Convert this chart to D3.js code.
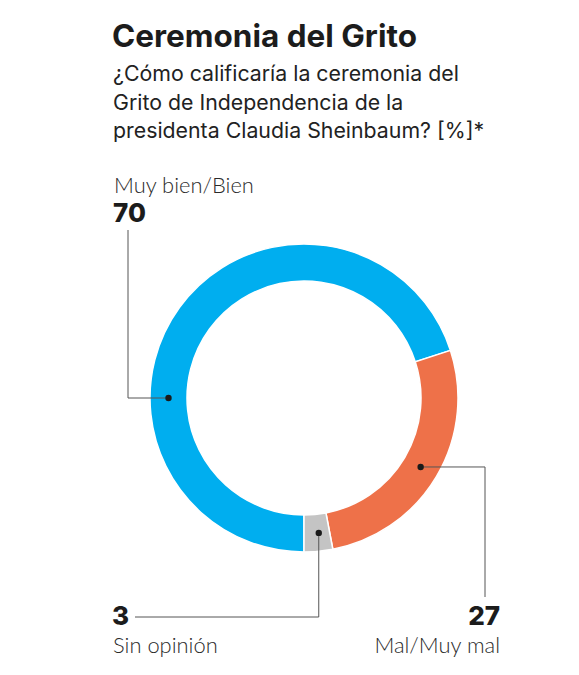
<!DOCTYPE html>
<meta charset="utf-8">
<style>
html, body {
  margin: 0;
  padding: 0;
  background: #fff;
}
svg text {
  font-family: Inter, "Noto Sans", sans-serif;
  fill: #1c1c1c;
}
.title { font-weight: 700; }
.subtitle { font-weight: 400; fill: #222; }
.label { font-family: Lato, Inter, sans-serif; font-weight: 300; fill: #2a2a2a; }
.value { font-weight: 800; }
.leader { fill: none; stroke: #555; stroke-width: 1; }
</style>
<svg width="579" height="675"></svg>
<script src="https://d3js.org/d3.v7.min.js"></script>
<script>
// data
const categories = ['Muy bien/Bien', 'Mal/Muy mal', 'Sin opinión'];
const values = [70, 27, 3];
const colors = ['#00aeef', '#ee7149', '#c4c4c4'];
const title = 'Ceremonia del Grito';
const subtitle = [
  '¿Cómo calificaría la ceremonia del',
  'Grito de Independencia de la',
  'presidenta Claudia Sheinbaum? [%]*'
];

const svg = d3.select('svg');
const cx = 304, cy = 398;
const outerR = 154, innerR = 117;
const midR = (outerR + innerR) / 2;

// shrink/grow a text so it spans the given width
function fitWidth(sel, target) {
  const node = sel.node();
  const size = parseFloat(sel.attr('font-size'));
  const w = node.getComputedTextLength();
  const s = size * target / w;
  sel.attr('font-size', s);
  return s;
}

// titles
const t = svg.append('text')
  .attr('class', 'title')
  .attr('x', 112)
  .attr('y', 47)
  .attr('font-size', 30)
  .text(title);
fitWidth(t, 305);

const sub0 = svg.append('text')
  .attr('class', 'subtitle')
  .attr('x', 113)
  .attr('y', 81)
  .attr('font-size', 22)
  .text(subtitle[0]);
const subSize = fitWidth(sub0, 346);
subtitle.slice(1).forEach((line, i) => {
  svg.append('text')
    .attr('class', 'subtitle')
    .attr('x', 113)
    .attr('y', 81 + (i + 1) * 28.5)
    .attr('font-size', subSize)
    .text(line);
});

// donut
const pie = d3.pie()
  .sort(null)
  .startAngle(Math.PI)
  .endAngle(3 * Math.PI)
  .value(d => d);
const arc = d3.arc().innerRadius(innerR).outerRadius(outerR);
const arcs = pie(values);

const g = svg.append('g').attr('transform', `translate(${cx},${cy})`);
g.selectAll('path')
  .data(arcs)
  .enter()
  .append('path')
  .attr('d', arc)
  .attr('fill', (d, i) => colors[i])
  .attr('stroke', '#fff')
  .attr('stroke-width', 1.5);

// anchor dots: first slice anchored on the left side of the ring
const polar = a => [midR * Math.sin(a), -midR * Math.cos(a)];
const anchors = [
  polar(1.5 * Math.PI),
  arc.centroid(arcs[1]),
  arc.centroid(arcs[2])
].map(p => [p[0] + cx, p[1] + cy]);

const leaders = [
  p => `M${p[0]},${p[1]}H128V230`,
  p => `M${p[0]},${p[1]}H485V597`,
  p => `M${p[0] + 2},${p[1]}V617H135`
];

svg.selectAll('path.leader')
  .data(anchors)
  .enter()
  .append('path')
  .attr('class', 'leader')
  .attr('d', (p, i) => leaders[i](p));

svg.selectAll('circle.dot')
  .data(anchors)
  .enter()
  .append('circle')
  .attr('class', 'dot')
  .attr('cx', (p, i) => i === 2 ? p[0] + 2 : p[0])
  .attr('cy', p => p[1])
  .attr('r', 3.2)
  .attr('fill', '#1a1a1a');

// labels
const labelPos = [
  { x: 114, yName: 193, yVal: 222, anchor: 'start' },
  { x: 500, yName: 653, yVal: 625, anchor: 'end' },
  { x: 113, yName: 653, yVal: 625, anchor: 'start' }
];

const first = svg.append('text')
  .attr('class', 'label')
  .attr('x', labelPos[0].x)
  .attr('y', labelPos[0].yName)
  .attr('font-size', 21)
  .text(categories[0]);
const labelSize = fitWidth(first, 140);

categories.forEach((c, i) => {
  const lp = labelPos[i];
  if (i > 0) {
    svg.append('text')
      .attr('class', 'label')
      .attr('x', lp.x)
      .attr('y', lp.yName)
      .attr('text-anchor', lp.anchor)
      .attr('font-size', labelSize)
      .text(c);
  }
  svg.append('text')
    .attr('class', 'value')
    .attr('x', lp.x - (lp.anchor === 'start' ? 1 : 0))
    .attr('y', lp.yVal)
    .attr('text-anchor', lp.anchor)
    .attr('font-size', 26)
    .text(values[i]);
});
</script>
